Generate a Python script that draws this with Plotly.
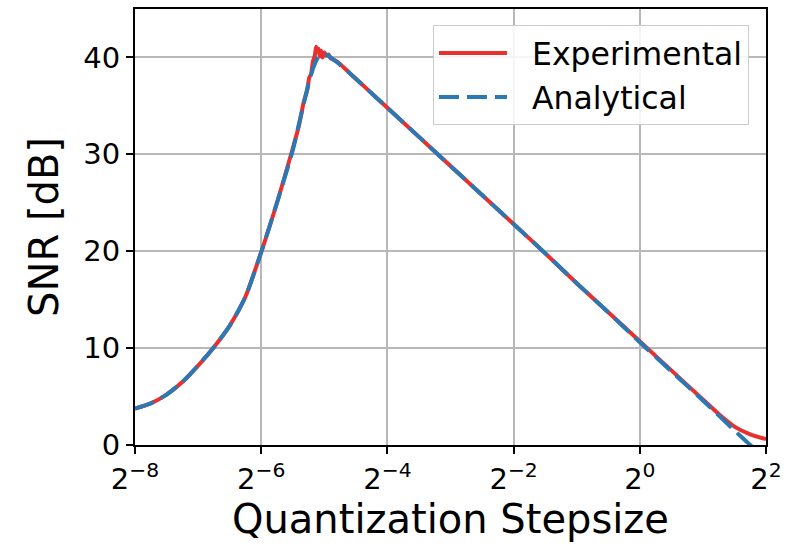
import plotly.graph_objects as go

# log2 of quantization stepsize and SNR [dB]
exp_log2 = [-8.0, -7.75, -7.5, -7.25, -7.0, -6.75, -6.5, -6.25, -6.0, -5.75, -5.5, -5.4,
            -5.33, -5.30, -5.27, -5.24, -5.21, -5.18, -5.15, -5.13, -5.11, -5.09, -5.07,
            -5.05, -5.03, -5.0, -4.97, -4.93, -4.9, -4.8, -4.6, -4.4, -4.2, -4.0, -3.5,
            -3.0, -2.5, -2.0, -1.5, -1.0, -0.5, 0.0, 0.5, 1.0, 1.25, 1.5, 1.75, 2.0]
exp_snr = [3.75, 4.3, 5.2, 6.5, 8.2, 10.1, 12.3, 15.3, 19.9, 25.0, 30.6, 33.0,
           35.3, 36.0, 36.6, 37.9, 38.3, 39.6, 40.2, 41.1, 40.6, 40.9, 40.1,
           40.7, 40.0, 40.5, 40.2, 40.3, 39.9, 39.6, 38.4, 37.2, 36.0, 34.8, 31.8,
           28.8, 25.8, 22.8, 19.8, 16.7, 13.7, 10.7, 7.7, 4.7, 3.2, 1.9, 1.1, 0.6]

ana_log2 = [-8.0, -7.75, -7.5, -7.25, -7.0, -6.75, -6.5, -6.25, -6.0, -5.75, -5.5, -5.4,
            -5.33, -5.25, -5.17, -5.1, -5.04, -4.97, -4.9, -4.8, -4.6, -4.4, -4.2, -4.0,
            -3.5, -3.0, -2.5, -2.0, -1.5, -1.0, -0.5, 0.0, 0.5, 1.0, 1.5, 1.75, 2.0]
ana_snr = [3.75, 4.3, 5.2, 6.5, 8.2, 10.1, 12.3, 15.3, 19.9, 25.0, 30.4, 33.2,
           35.1, 37.3, 39.0, 40.0, 40.3, 40.3, 40.0, 39.5, 38.4, 37.2, 36.0, 34.8,
           31.8, 28.8, 25.8, 22.8, 19.8, 16.7, 13.7, 10.6, 7.6, 4.6, 1.5, 0.0, -1.5]

tick_exps = [-8, -6, -4, -2, 0, 2]
y_ticks = [0, 10, 20, 30, 40]

font_family = "DejaVu Sans"
NB = "\u00a0\u00a0"

fig = go.Figure()
fig.add_trace(go.Scatter(
    x=[2.0 ** e for e in exp_log2], y=exp_snr, mode="lines", name=NB + "Experimental",
    line=dict(color="#e8302f", width=4, shape="spline", smoothing=0.6)))
fig.add_trace(go.Scatter(
    x=[2.0 ** e for e in ana_log2], y=ana_snr, mode="lines", name=NB + "Analytical",
    line=dict(color="#2a78b4", width=4, dash="20px,8px", shape="spline", smoothing=0.6)))

fig.update_layout(
    width=789, height=546,
    margin=dict(l=135, r=17, t=7, b=101),
    paper_bgcolor="white", plot_bgcolor="white",
    font=dict(family=font_family, size=29, color="black"),
    showlegend=True,
    legend=dict(x=0.973, y=0.963, xanchor="right", yanchor="top",
                bgcolor="rgba(255,255,255,0.85)", bordercolor="#cccccc", borderwidth=1,
                font=dict(size=31.5), itemwidth=68, tracegroupgap=0),
)
fig.update_xaxes(
    type="log", range=[-8 * 0.30103, 2 * 0.30103],
    tickmode="array", tickvals=[2.0 ** e for e in tick_exps],
    ticktext=["2<sup>%s</sup>" % (("−%d" % -e) if e < 0 else str(e)) for e in tick_exps],
    ticks="outside", ticklen=7, tickwidth=1.5, tickcolor="black",
    showline=True, linecolor="black", linewidth=2, mirror=True,
    showgrid=True, gridcolor="#b8b8b8", gridwidth=1.5,
    title=dict(text="Quantization Stepsize", font=dict(size=40), standoff=6),
    tickfont=dict(size=29),
)
fig.update_yaxes(
    range=[0, 45], tickmode="array", tickvals=y_ticks,
    ticks="outside", ticklen=7, tickwidth=1.5, tickcolor="black",
    showline=True, linecolor="black", linewidth=2, mirror=True,
    showgrid=True, gridcolor="#b8b8b8", gridwidth=1.5, zeroline=False,
    title=dict(text="SNR [dB]", font=dict(size=40), standoff=12),
    tickfont=dict(size=29),
)

fig.write_html("out.html")
